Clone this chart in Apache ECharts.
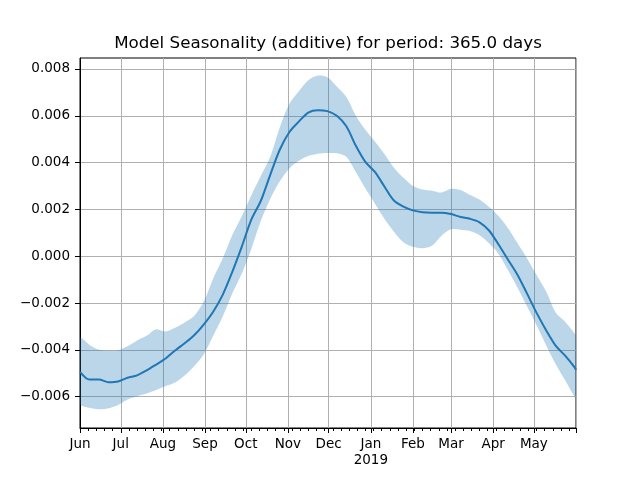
<!DOCTYPE html>
<html>
<head>
<meta charset="utf-8">
<script src="https://cdn.jsdelivr.net/npm/echarts@6/dist/echarts.min.js"></script>
<style>html,body{margin:0;padding:0;background:#fff}#c{width:640px;height:480px}</style>
</head>
<body>
<div id="c"></div>
<script>
// days since 2018-06-01
const days = [0,7,14,21,28,35,42,49,56,63,70,77,84,91,98,105,112,119,126,133,140,147,154,161,168,175,182,189,196,203,210,217,224,231,238,245,252,259,266,273,280,287,294,301,308,315,322,329,336,343,350,357,364,365];
const seasonal = [-0.00494,-0.00527,-0.00527,-0.00538,-0.00535,-0.00519,-0.00509,-0.00488,-0.00463,-0.00437,-0.00403,-0.00372,-0.00338,-0.00292,-0.00237,-0.00165,-0.00068,0.00040,0.00155,0.00236,0.00348,0.00455,0.00530,0.00575,0.00614,0.00624,0.00620,0.00600,0.00555,0.00472,0.00403,0.00360,0.00298,0.00238,0.00212,0.00196,0.00188,0.00186,0.00186,0.00180,0.00168,0.00160,0.00145,0.00110,0.00050,-0.00015,-0.00080,-0.00160,-0.00242,-0.00316,-0.00382,-0.00425,-0.00475,-0.00486];
const upper = [-0.00350,-0.00379,-0.00400,-0.00404,-0.00402,-0.00385,-0.00360,-0.00340,-0.00312,-0.00322,-0.00306,-0.00283,-0.00255,-0.00195,-0.00095,-0.00010,0.00090,0.00170,0.00260,0.00343,0.00425,0.00550,0.00650,0.00705,0.00752,0.00772,0.00765,0.00725,0.00680,0.00600,0.00540,0.00490,0.00437,0.00378,0.00335,0.00300,0.00285,0.00280,0.00272,0.00288,0.00283,0.00262,0.00242,0.00210,0.00172,0.00120,0.00055,-0.00010,-0.00080,-0.00150,-0.00240,-0.00280,-0.00330,-0.00337];
const lower = [-0.00630,-0.00648,-0.00654,-0.00650,-0.00636,-0.00612,-0.00598,-0.00587,-0.00572,-0.00555,-0.00540,-0.00510,-0.00470,-0.00420,-0.00340,-0.00258,-0.00160,-0.00075,0.00030,0.00150,0.00245,0.00320,0.00375,0.00408,0.00428,0.00438,0.00441,0.00440,0.00425,0.00360,0.00290,0.00225,0.00160,0.00105,0.00060,0.00040,0.00034,0.00045,0.00088,0.00115,0.00113,0.00108,0.00090,0.00055,0.00010,-0.00060,-0.00135,-0.00215,-0.00295,-0.00380,-0.00460,-0.00530,-0.00602,-0.00607];
const monthDays = [0,30,61,92,122,153,183,214,245,273,304,334,365];
const monthLabels = ['Jun','Jul','Aug','Sep','Oct','Nov','Dec','Jan\n2019','Feb','Mar','Apr','May',''];
const yTicks = [-0.006,-0.004,-0.002,0.000,0.002,0.004,0.006,0.008];
const minorDays = [];
for (let d = 6; d < 365; d += 6) { if (monthDays.indexOf(d) < 0) minorDays.push(d); }

const F = 'DejaVu Sans';
const fmtY = v => (v < 0 ? '\u2212' : '') + Math.abs(v).toFixed(3);
const labelMap = {};
monthDays.forEach((d,i) => labelMap[d] = monthLabels[i]);

const bandData = days.map((d,i) => [d, lower[i], upper[i]]);

const chart = echarts.init(document.getElementById('c'), null, {renderer:'canvas'});
chart.setOption({
  animation: false,
  backgroundColor: '#fff',
  title: {
    text: 'Model Seasonality (additive) for period: 365.0 days',
    left: 328, top: 34, textAlign: 'center', padding: 0,
    textStyle: {fontFamily: F, fontSize: 16.7, fontWeight: 'normal', color: '#000', lineHeight: 19}
  },
  grid: {left: 80, right: 64, top: 58, bottom: 52, show: true, borderColor: '#000', borderWidth: 1, backgroundColor: 'transparent', containLabel: false},
  xAxis: [{
    type: 'value', min: 0, max: 365,
    axisLine: {show: true, onZero: false, lineStyle: {color: '#000', width: 1}},
    axisTick: {show: true, length: 5, lineStyle: {color: '#000', width: 1}, customValues: monthDays},
    axisLabel: {show: true, customValues: monthDays.slice(0,12), margin: 8, fontFamily: F, fontSize: 13.5, color: '#000', lineHeight: 16,
      formatter: v => labelMap[Math.round(v)] || ''},
    splitLine: {show: true, lineStyle: {color: '#b0b0b0', width: 1}}
  },{
    type: 'value', min: 0, max: 365, position: 'bottom',
    axisLine: {show: false, onZero: false},
    axisTick: {show: true, length: 3, lineStyle: {color: '#000', width: 1}, customValues: minorDays},
    axisLabel: {show: false},
    splitLine: {show: false}
  }],
  yAxis: {
    type: 'value', min: -0.00734, max: 0.00847,
    axisLine: {show: true, onZero: false, lineStyle: {color: '#000', width: 1}},
    axisTick: {show: true, length: 5, lineStyle: {color: '#000', width: 1}, customValues: yTicks},
    axisLabel: {show: true, customValues: yTicks, margin: 10, fontFamily: F, fontSize: 13.5, color: '#000', formatter: fmtY},
    splitLine: {show: true, lineStyle: {color: '#b0b0b0', width: 1}}
  },
  series: [
    {type: 'custom', name: 'band', silent: true, z: 1, clip: true,
     data: bandData,
     encode: {x: 0, y: [1, 2]},
     renderItem: function (params, api) {
       if (params.dataIndex !== 0) return null;
       const top = [], bot = [];
       for (let i = 0; i < bandData.length; i++) {
         top.push(api.coord([bandData[i][0], bandData[i][2]]));
         bot.push(api.coord([bandData[i][0], bandData[i][1]]));
       }
       const pts = top.concat(bot.reverse());
       return {type: 'polygon', shape: {points: pts, smooth: 0.3}, style: {fill: 'rgba(31,119,180,0.3)', stroke: null}};
     }},
    {type: 'line', name: 'seasonal', symbol: 'none', smooth: 0.3,
     lineStyle: {color: '#1f77b4', width: 2}, data: days.map((d,i) => [d, seasonal[i]]), z: 3}
  ]
});
</script>
</body>
</html>
